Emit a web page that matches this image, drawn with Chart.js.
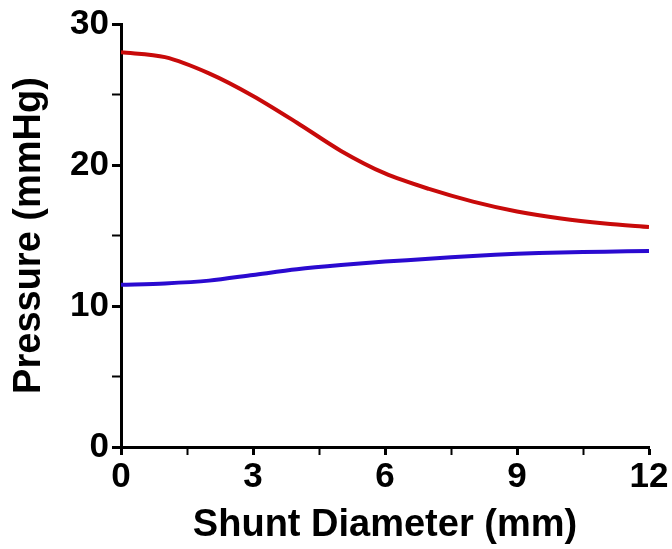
<!DOCTYPE html>
<html>
<head>
<meta charset="utf-8">
<script src="https://cdn.jsdelivr.net/npm/chart.js@4.4.1/dist/chart.umd.min.js"></script>
<style>
  html, body { margin: 0; padding: 0; background: #fff; }
  #wrap { width: 672px; height: 549px; }
</style>
</head>
<body>
<div id="wrap"><canvas id="pressureChart" width="672" height="549"></canvas></div>
<script>
// values
const diameters = [0, 1, 2, 3, 4, 5, 6, 7, 8, 9, 10, 11, 12];
const upperPressure = [28.0, 27.65, 26.5, 24.9, 23.0, 21.0, 19.4, 18.3, 17.4, 16.7, 16.2, 15.85, 15.6];
const lowerPressure = [11.5, 11.6, 11.8, 12.2, 12.6, 12.9, 13.15, 13.35, 13.55, 13.7, 13.8, 13.85, 13.9];
const xMajorTicks = [0, 3, 6, 9, 12];
const yMajorTicks = [0, 10, 20, 30];

const toPoints = (ys) => diameters.map((x, i) => ({ x: x, y: ys[i] }));

const fontFamily = '"Liberation Sans", Arial, Helvetica, sans-serif';

document.addEventListener('DOMContentLoaded', function () {
    const ctx = document.getElementById('pressureChart').getContext('2d');
    new Chart(ctx, {
        type: 'line',
        data: {
            datasets: [
                {
                    label: 'upper',
                    data: toPoints(upperPressure),
                    borderColor: '#c80a0a',
                    borderWidth: 4,
                    pointRadius: 0,
                    fill: false,
                    tension: 0.3
                },
                {
                    label: 'lower',
                    data: toPoints(lowerPressure),
                    borderColor: '#2a0ad0',
                    borderWidth: 4,
                    pointRadius: 0,
                    fill: false,
                    tension: 0.3
                }
            ]
        },
        options: {
            responsive: false,
            animation: false,
            layout: { padding: { top: 20, right: 23, left: 0, bottom: 0 } },
            plugins: {
                legend: { display: false },
                tooltip: { enabled: false }
            },
            scales: {
                x: {
                    type: 'linear',
                    min: 0,
                    max: 12,
                    afterFit: (s) => { s.height = 102; },
                    border: { display: true, color: '#000', width: 3 },
                    grid: {
                        drawOnChartArea: false,
                        drawTicks: true,
                        tickLength: 8,
                        tickColor: '#000',
                        tickWidth: (c) => xMajorTicks.includes(c.tick.value) ? 3 : 2
                    },
                    ticks: {
                        stepSize: 1.5,
                        autoSkip: false,
                        maxRotation: 0,
                        padding: 1,
                        color: '#000',
                        font: { family: fontFamily, size: 35, weight: 'bold' },
                        callback: (v) => xMajorTicks.includes(v) ? String(v) : ''
                    },
                    title: {
                        display: true,
                        text: 'Shunt Diameter (mm)',
                        color: '#000',
                        font: { family: fontFamily, size: 38, weight: 'bold' },
                        padding: { top: 0, bottom: 1 }
                    }
                },
                y: {
                    min: 0,
                    max: 30,
                    afterFit: (s) => { s.width = 121; },
                    border: { display: true, color: '#000', width: 3 },
                    grid: {
                        drawOnChartArea: false,
                        drawTicks: true,
                        tickLength: 9,
                        tickColor: '#000',
                        tickWidth: (c) => yMajorTicks.includes(c.tick.value) ? 3 : 2
                    },
                    ticks: {
                        stepSize: 5,
                        autoSkip: false,
                        padding: 3,
                        color: '#000',
                        font: { family: fontFamily, size: 35, weight: 'bold' },
                        callback: (v) => yMajorTicks.includes(v) ? String(v) : ''
                    },
                    title: {
                        display: true,
                        text: 'Pressure (mmHg)',
                        color: '#000',
                        font: { family: fontFamily, size: 38, weight: 'bold' },
                        padding: { top: 7, bottom: 0 }
                    }
                }
            }
        }
    });
});
</script>
</body>
</html>
